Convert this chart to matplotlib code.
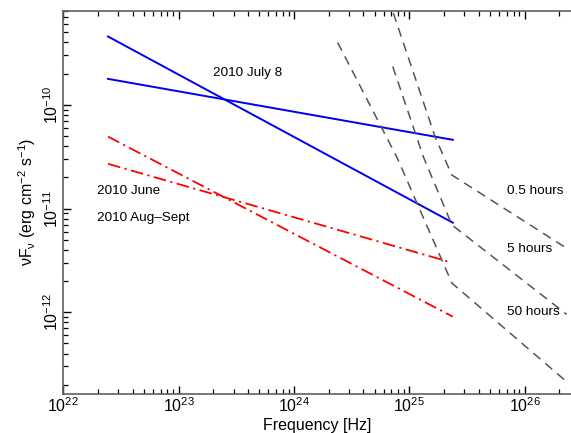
#!/usr/bin/env python3
"""Spectral sketch: power-law fits of the flares against sensitivity curves."""

import matplotlib

matplotlib.use("Agg")

import matplotlib.pyplot as plt

plt.rcParams["font.family"] = ["Liberation Sans", "DejaVu Sans"]
plt.rcParams["mathtext.fontset"] = "custom"
plt.rcParams["mathtext.rm"] = "Liberation Sans"
plt.rcParams["mathtext.it"] = "Liberation Sans:italic"

# power-law fits (start, end of each band)
july_x = [2.44e22, 2.38e25]
july_steep = [4.56e-10, 7.31e-12]
july_flat = [1.78e-10, 4.60e-11]

june_x = [2.44e22, 2.18e25]
june_y = [2.70e-11, 3.08e-12]
augsep_x = [2.44e22, 2.38e25]
augsep_y = [4.94e-11, 9.07e-13]

# sensitivity curves for different exposures
sens_labels = ["0.5 hours", "5 hours", "50 hours"]
sens_x = [
    [7.26e24, 1.67e25, 2.33e25, 2.31e26],
    [7.18e24, 1.32e25, 2.34e25, 2.31e26],
    [2.39e24, 7.87e24, 2.34e25, 2.31e26],
]
sens_y = [
    [7.67e-10, 4.94e-11, 2.11e-11, 4.14e-12],
    [2.34e-10, 3.17e-11, 6.95e-12, 9.55e-13],
    [3.99e-10, 3.06e-11, 1.91e-12, 2.14e-13],
]

# annotation positions (data coords, left-aligned)
note_text = ["2010 July 8", "2010 June", "2010 Aug\u2013Sept"] + sens_labels
note_x = [1.99e23, 1.97e22, 1.97e22, 7.06e25, 7.06e25, 7.06e25]
note_y = [2.04e-10, 1.49e-11, 8.07e-12, 1.49e-11, 4.06e-12, 1.01e-12]


def main() -> int:
    fig = plt.figure(figsize=(5.71, 4.33), dpi=100)
    ax = fig.add_axes([63.3 / 571, 1 - 393.7 / 433, 1 - 63.3 / 571, 383.2 / 433])

    ax.plot(july_x, july_steep, color="#0000f0", lw=1.4)
    ax.plot(july_x, july_flat, color="#0000f0", lw=1.4)

    dashdot = (7, 2.5, 1.2, 2.5)
    ax.plot(june_x, june_y, color="red", lw=1.3, dashes=dashdot)
    ax.plot(augsep_x, augsep_y, color="red", lw=1.3, dashes=dashdot)

    for xs, ys in zip(sens_x, sens_y):
        ax.plot(xs, ys, color="#555555", lw=1.1, dashes=(6.0, 4.2))

    for txt, x, y in zip(note_text, note_x, note_y):
        ax.text(x, y, txt, fontsize=9.7, ha="left", va="center")

    ax.set_xscale("log")
    ax.set_yscale("log")
    ax.set_xlim(1e22, 2.52e26)
    ax.set_ylim(1.64e-13, 8.12e-10)

    ax.set_xlabel("Frequency [Hz]", fontsize=11.5, labelpad=2)
    ax.set_ylabel("\u03bdF$_{\\mathrm{\u03bd}}$ (erg cm$^{-2}$ s$^{-1}$)", fontsize=11.5, labelpad=3)

    ax.spines["right"].set_visible(False)
    for side in ("left", "bottom", "top"):
        ax.spines[side].set_color("#606060")
        ax.spines[side].set_linewidth(1.2)

    ax.tick_params(which="both", direction="in", top=True, right=False, labelsize=11.5)
    ax.tick_params(which="major", length=6, width=1.0)
    ax.tick_params(which="minor", length=3.5, width=0.9)
    ax.tick_params(axis="x", pad=2)
    ax.tick_params(axis="y", labelrotation=90, pad=2)
    for lab in ax.get_yticklabels():
        lab.set_va("center")

    fig.savefig("out.png", dpi=100)
    return 0


if __name__ == "__main__":
    raise SystemExit(main())
